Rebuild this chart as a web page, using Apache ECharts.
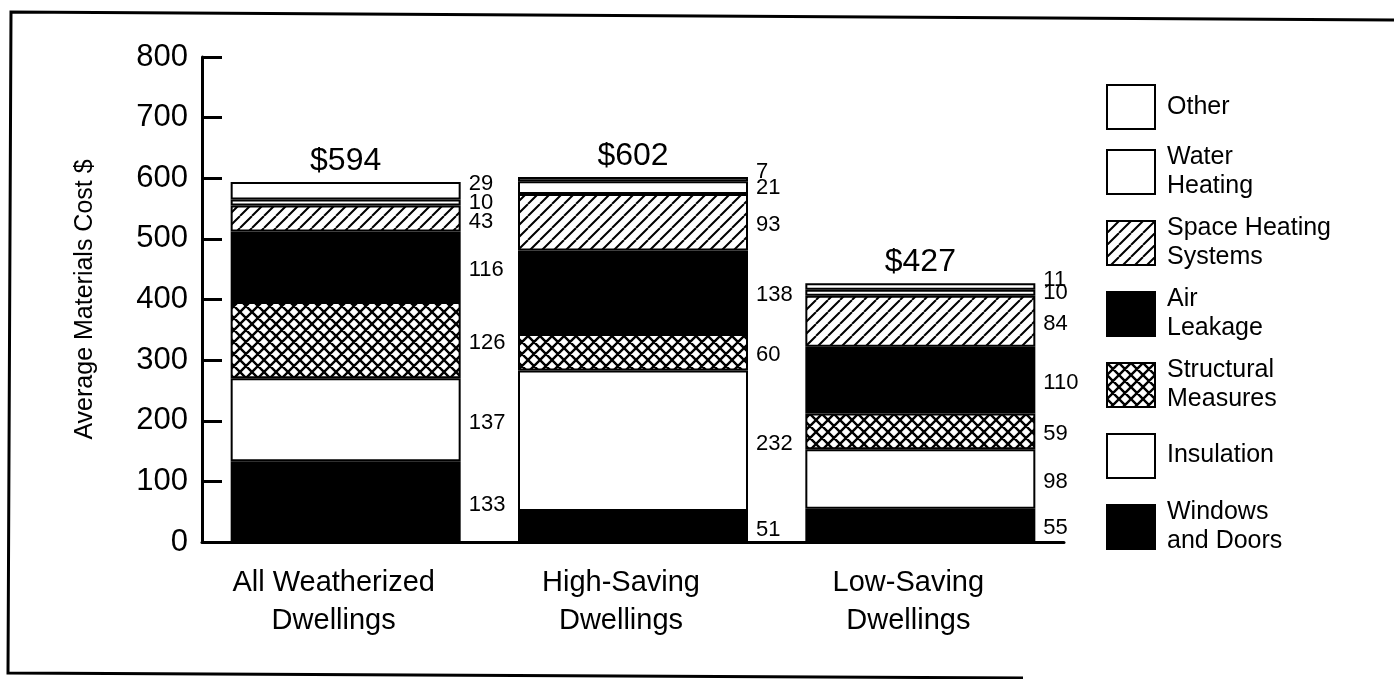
<!DOCTYPE html>
<html>
<head>
<meta charset="utf-8">
<script src="https://cdn.jsdelivr.net/npm/echarts@6/dist/echarts.min.js"></script>
<style>
html,body{margin:0;padding:0;background:#fff;}
#chart{width:1394px;height:679px;}
</style>
</head>
<body>
<div id="chart"></div>
<script>
// ---- data ----
const categories = ['All Weatherized\nDwellings', 'High-Saving\nDwellings', 'Low-Saving\nDwellings'];
const windowsDoors = [133, 51, 55];
const insulation = [137, 232, 98];
const structural = [126, 60, 59];
const airLeakage = [116, 138, 110];
const spaceHeating = [43, 93, 84];
const waterHeating = [10, 21, 10];
const other = [29, 7, 11];
const totals = [594, 602, 427];
const seriesNames = ['Windows and Doors', 'Insulation', 'Structural Measures', 'Air Leakage', 'Space Heating Systems', 'Water Heating', 'Other'];
const legendLabels = {
  'Other': 'Other',
  'Water Heating': 'Water\nHeating',
  'Space Heating Systems': 'Space Heating\nSystems',
  'Air Leakage': 'Air\nLeakage',
  'Structural Measures': 'Structural\nMeasures',
  'Insulation': '{p|Insulation}',
  'Windows and Doors': 'Windows\nand Doors'
};

const FONT = 'Liberation Sans, Arial, Helvetica, sans-serif';

function hatchPattern(size, lw, fwd, back) {
  const c = document.createElement('canvas');
  c.width = size; c.height = size;
  const g = c.getContext('2d');
  g.fillStyle = '#fff';
  g.fillRect(0, 0, size, size);
  g.strokeStyle = '#000';
  g.lineWidth = lw;
  g.beginPath();
  for (let k = -1; k <= 1; k++) {
    if (fwd) { g.moveTo(k * size, size); g.lineTo(k * size + size, 0); }
    if (back) { g.moveTo(k * size, 0); g.lineTo(k * size + size, size); }
  }
  g.stroke();
  return { image: c, repeat: 'repeat' };
}

const diagPattern = hatchPattern(12, 2, true, false);
const crossPattern = hatchPattern(12, 2.4, true, true);

const fills = {
  'Windows and Doors': '#000',
  'Insulation': '#fff',
  'Structural Measures': crossPattern,
  'Air Leakage': '#000',
  'Space Heating Systems': diagPattern,
  'Water Heating': '#fff',
  'Other': '#fff'
};
const values = {
  'Windows and Doors': windowsDoors,
  'Insulation': insulation,
  'Structural Measures': structural,
  'Air Leakage': airLeakage,
  'Space Heating Systems': spaceHeating,
  'Water Heating': waterHeating,
  'Other': other
};
const labelOffsets = {
  'Other': [0, -7],
  'Water Heating': [0, 0]
};

const series = seriesNames.map(function (name) {
  return {
    name: name,
    type: 'bar',
    stack: 'cost',
    barWidth: 230,
    data: values[name],
    itemStyle: { color: fills[name], borderColor: '#000', borderWidth: 2 },
    label: {
      show: true,
      position: 'right',
      distance: 8,
      offset: labelOffsets[name] || [0, 3],
      color: '#000',
      fontFamily: FONT,
      fontSize: 22
    },
    emphasis: { disabled: true },
    silent: true
  };
});

series.push({
  name: 'Total',
  type: 'bar',
  stack: 'cost',
  barWidth: 230,
  data: [0, 0, 0],
  itemStyle: { color: 'rgba(0,0,0,0)', borderWidth: 0 },
  label: {
    show: true,
    position: 'top',
    distance: 5,
    color: '#000',
    fontFamily: FONT,
    fontSize: 32,
    formatter: function (p) { return '$' + totals[p.dataIndex]; }
  },
  silent: true
});

const chart = echarts.init(document.getElementById('chart'), null, { renderer: 'canvas' });
chart.setOption({
  animation: false,
  backgroundColor: '#fff',
  textStyle: { fontFamily: FONT, color: '#000' },
  graphic: [{
    type: 'polyline',
    shape: { points: [[1394, 20], [11, 12], [8, 673], [1023, 678]] },
    style: { stroke: '#000', lineWidth: 3, fill: null },
    silent: true
  }],
  grid: { left: 202, right: 330, top: 57, bottom: 137 },
  legend: {
    orient: 'vertical',
    left: 1106,
    top: 84,
    padding: 0,
    itemWidth: 48,
    itemHeight: 44,
    itemGap: 13,
    selectedMode: false,
    icon: 'rect',
    data: seriesNames.slice().reverse(),
    formatter: function (name) { return legendLabels[name]; },
    itemStyle: { borderColor: '#000', borderWidth: 2 },
    textStyle: {
      fontFamily: FONT, fontSize: 25, lineHeight: 29, color: '#000', padding: [0, 0, 0, 7],
      rich: { p: { fontFamily: FONT, fontSize: 25, lineHeight: 29, color: '#000', padding: [16, 0, 17, 0] } }
    }
  },
  xAxis: {
    type: 'category',
    data: categories,
    axisLine: { lineStyle: { color: '#000', width: 3 } },
    axisTick: { show: false },
    axisLabel: { color: '#000', fontFamily: FONT, fontSize: 29, lineHeight: 38, margin: 22, padding: [0, 24, 0, 0] }
  },
  yAxis: {
    type: 'value',
    min: 0,
    max: 800,
    interval: 100,
    name: 'Average Materials Cost $',
    nameLocation: 'middle',
    nameGap: 104,
    nameTextStyle: { color: '#000', fontFamily: FONT, fontSize: 25 },
    axisLine: { show: true, lineStyle: { color: '#000', width: 3 } },
    axisTick: { show: true, inside: true, length: 20, lineStyle: { color: '#000', width: 3 } },
    axisLabel: { color: '#000', fontFamily: FONT, fontSize: 31, margin: 14 },
    splitLine: { show: false }
  },
  series: series
});
</script>
</body>
</html>
